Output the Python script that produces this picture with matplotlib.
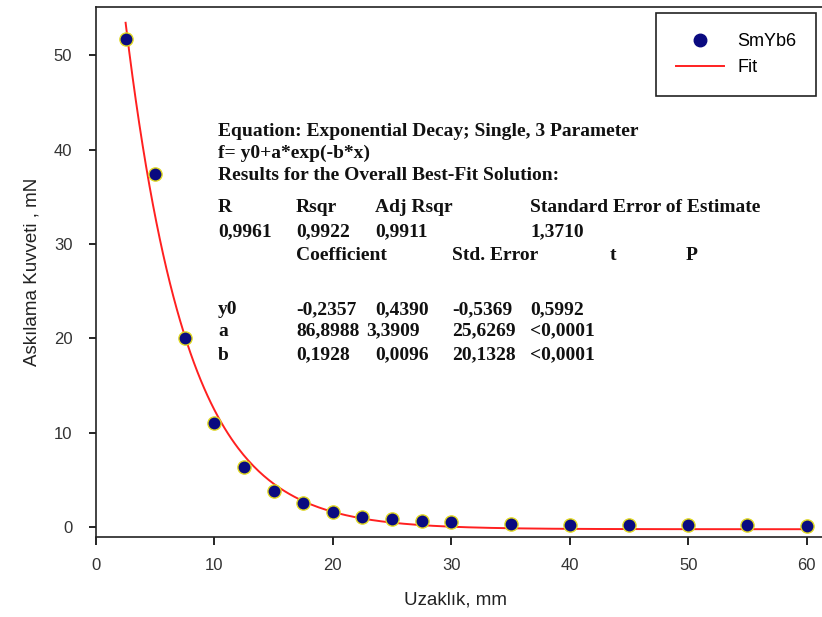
import numpy as np
import matplotlib.pyplot as plt
from matplotlib.lines import Line2D

# measured data (SmYb6)
distance = [2.5, 5, 7.5, 10, 12.5, 15, 17.5, 20, 22.5, 25, 27.5, 30, 35, 40, 45, 50, 55, 60]
force = [51.7, 37.4, 20.0, 11.0, 6.4, 3.8, 2.5, 1.6, 1.1, 0.8, 0.6, 0.5, 0.3, 0.2, 0.2, 0.2, 0.2, 0.15]

# exponential decay fit parameters shown on the chart
y0, a, b = -0.2357, 86.8988, 0.1928

W, H = 822, 617
fig = plt.figure(figsize=(W / 100, H / 100), dpi=100)
ax = fig.add_axes([96 / W, 1 - 537 / H, 1 - 96 / W, (537 - 7) / H])

xf = np.linspace(distance[0], distance[-1], 400)
ax.plot(xf, y0 + a * np.exp(-b * xf), color='#ff2020', lw=1.4, zorder=2)
ax.plot(distance, force, 'o', ms=9.5, mfc='#0a0a80', mec='#e0d820', mew=1.0, zorder=3)

ax.set_xlim(0, 61.3)
ax.set_ylim(-1.06, 55.1)
ax.set_xticks(range(0, 61, 10))
ax.set_yticks(range(0, 51, 10))
ax.spines['right'].set_visible(False)
for s in ['left', 'bottom', 'top']:
    ax.spines[s].set_linewidth(1.2)
    ax.spines[s].set_color('#222222')
ax.tick_params(axis='y', length=5, width=1.2, pad=12, labelsize=12, labelcolor='#333333')
ax.tick_params(axis='x', length=6, width=1.2, pad=9, labelsize=12, labelcolor='#333333')
for lab in ax.get_xticklabels() + ax.get_yticklabels():
    lab.set_family('Liberation Sans')

fig.text(455 / W, 1 - 600 / H, 'Uzaklık, mm', ha='center', va='center',
         fontsize=13.5, family='Liberation Sans', color='#222222')
fig.text(32 / W, 1 - 272 / H, 'Askılama Kuvveti , mN', ha='center', va='center',
         rotation=90, fontsize=13.5, family='Liberation Sans', color='#222222')

handles = [Line2D([], [], ls='none', marker='o', ms=9, mfc='#0a0a80', mec='#0a0a80'),
           Line2D([], [], color='#ff2020', lw=1.4)]
leg = ax.legend(handles, ['SmYb6', 'Fit'], loc='upper right',
                bbox_to_anchor=(816 / W, 1 - 13 / H), bbox_transform=fig.transFigure,
                borderaxespad=0, fancybox=False, edgecolor='#222222', framealpha=1,
                prop={'family': 'Liberation Sans', 'size': 13},
                borderpad=1.1, labelspacing=0.5, handlelength=2.7, handletextpad=0.7)
leg.get_frame().set_linewidth(1.2)

# fit report text block
tf = dict(family='Liberation Serif', weight='bold', fontsize=14, va='center', color='#111111')
rows = [
    (131, [(218, 'Equation: Exponential Decay; Single, 3 Parameter')]),
    (153, [(218, 'f= y0+a*exp(-b*x)')]),
    (175, [(218, 'Results for the Overall Best-Fit Solution:')]),
    (207, [(218, 'R'), (296, 'Rsqr'), (375, 'Adj Rsqr'), (530, 'Standard Error of Estimate')]),
    (232, [(218, '0,9961'), (296, '0,9922'), (375, '0,9911'), (530, '1,3710')]),
    (256, [(296, 'Coefficient'), (452, 'Std. Error'), (610, 't'), (686, 'P')]),
    (310, [(218, 'y0'), (296, '-0,2357'), (375, '0,4390'), (452, '-0,5369'), (530, '0,5992')]),
    (331, [(218, 'a'), (296, '86,8988'), (366, '3,3909'), (452, '25,6269'), (530, '<0,0001')]),
    (355, [(218, 'b'), (296, '0,1928'), (375, '0,0096'), (452, '20,1328'), (530, '<0,0001')]),
]
for yp, cells in rows:
    for xp, s in cells:
        fig.text(xp / W, 1 - yp / H, s, **tf)

fig.savefig('out.png', dpi=100)
